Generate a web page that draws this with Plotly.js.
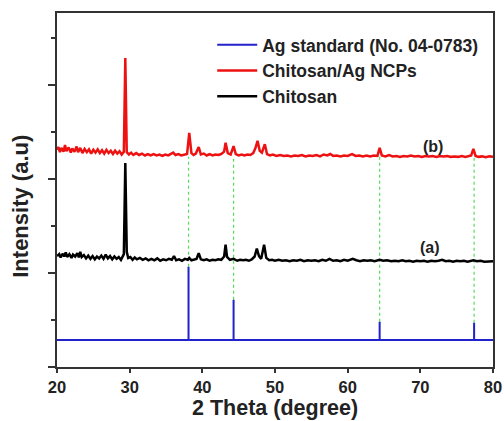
<!DOCTYPE html>
<html>
<head>
<meta charset="utf-8">
<script src="https://cdn.plot.ly/plotly-3.0.1.min.js"></script>
<style>html,body{margin:0;padding:0;background:#fff;}#chart{width:504px;height:421px;}</style>
</head>
<body>
<div id="chart"></div>
<script>
// Chitosan (a)
const chitosanX = [20.0,20.3,20.5,20.8,21.0,21.2,21.4,21.7,22.0,22.2,22.5,22.8,23.0,23.2,23.4,23.7,24.0,24.3,24.6,24.9,25.2,25.5,25.8,26.1,26.4,26.7,27.0,27.3,27.6,27.9,28.2,28.5,28.8,29.0,29.2,29.4,29.6,29.8,30.1,30.4,30.7,31.0,31.4,31.8,32.2,32.6,33.0,33.4,33.8,34.2,34.6,35.0,35.4,35.8,36.1,36.4,36.8,37.2,37.6,38.0,38.2,38.5,38.9,39.2,39.5,39.8,40.2,40.6,41.0,41.4,41.8,42.2,42.6,43.0,43.2,43.4,43.8,44.3,44.8,45.2,45.6,46.0,46.4,46.8,47.2,47.5,47.8,48.1,48.5,48.8,49.2,49.6,50.0,50.5,51.0,51.5,52.0,52.5,53.0,53.5,54.0,54.5,55.0,55.5,56.0,56.5,57.0,57.5,58.0,58.5,59.0,59.5,60.0,60.7,61.2,61.7,62.2,62.7,63.2,63.7,64.4,64.9,65.4,66.0,66.5,67.0,67.5,68.0,68.5,69.0,69.5,70.0,70.5,71.0,71.5,72.0,72.5,73.0,73.5,74.0,74.5,75.0,75.5,76.0,76.5,77.3,77.8,78.3,78.8,79.3,80.0];
const chitosanY = [2.36,2.40,2.33,2.41,2.35,2.44,2.34,2.40,2.32,2.39,2.35,2.42,2.33,2.45,2.34,2.38,2.31,2.37,2.30,2.36,2.29,2.35,2.31,2.37,2.30,2.39,2.31,2.36,2.29,2.35,2.30,2.34,2.28,2.35,2.40,4.34,2.45,2.32,2.34,2.28,2.33,2.29,2.32,2.28,2.31,2.27,2.30,2.27,2.31,2.26,2.29,2.27,2.30,2.28,2.36,2.27,2.29,2.26,2.30,2.28,2.32,2.27,2.29,2.30,2.42,2.29,2.27,2.29,2.26,2.28,2.27,2.29,2.28,2.35,2.60,2.34,2.28,2.30,2.26,2.28,2.27,2.28,2.26,2.29,2.35,2.52,2.36,2.30,2.60,2.32,2.27,2.28,2.26,2.28,2.26,2.27,2.25,2.27,2.26,2.28,2.25,2.27,2.26,2.27,2.25,2.28,2.26,2.30,2.26,2.27,2.25,2.28,2.26,2.30,2.27,2.25,2.27,2.26,2.27,2.25,2.28,2.26,2.27,2.25,2.26,2.25,2.27,2.25,2.26,2.24,2.26,2.25,2.26,2.24,2.26,2.25,2.26,2.28,2.25,2.26,2.24,2.26,2.25,2.26,2.24,2.27,2.25,2.26,2.24,2.25,2.25];

// Chitosan/Ag NCPs (b)
const ncpX = [20.0,20.2,20.4,20.6,20.9,21.1,21.3,21.6,21.9,22.1,22.4,22.7,22.9,23.2,23.5,23.8,24.1,24.4,24.7,25.0,25.3,25.6,25.9,26.2,26.5,26.8,27.1,27.4,27.7,28.0,28.3,28.6,28.9,29.2,29.4,29.6,29.9,30.2,30.5,30.9,31.3,31.7,32.1,32.5,32.9,33.3,33.7,34.1,34.5,34.9,35.3,35.7,36.0,36.3,36.7,37.1,37.5,37.9,38.2,38.5,38.8,39.1,39.5,39.8,40.2,40.6,41.0,41.4,41.8,42.2,42.6,43.0,43.2,43.5,43.9,44.3,44.6,45.0,45.4,45.8,46.2,46.6,47.0,47.3,47.6,47.9,48.2,48.6,48.9,49.3,49.7,50.2,50.7,51.2,51.7,52.2,52.7,53.2,53.7,54.2,54.7,55.2,55.7,56.2,56.7,57.2,57.6,58.0,58.5,59.0,59.5,60.0,60.6,61.1,61.6,62.1,62.6,63.1,63.6,64.1,64.4,64.7,65.2,65.7,66.2,66.7,67.2,67.7,68.2,68.7,69.2,69.7,70.2,70.7,71.2,71.7,72.2,72.7,73.2,73.7,74.2,74.7,75.2,75.7,76.2,76.7,77.0,77.3,77.6,78.0,78.5,79.0,79.5,80.0];
const ncpY = [4.62,4.68,4.57,4.66,4.58,4.72,4.59,4.67,4.56,4.65,4.58,4.69,4.57,4.66,4.55,4.64,4.57,4.63,4.54,4.62,4.56,4.63,4.55,4.61,4.54,4.62,4.55,4.60,4.53,4.60,4.54,4.59,4.52,4.58,6.57,4.57,4.52,4.56,4.51,4.55,4.51,4.54,4.50,4.53,4.50,4.53,4.50,4.52,4.49,4.52,4.50,4.53,4.56,4.51,4.53,4.50,4.52,4.53,4.98,4.55,4.51,4.54,4.68,4.52,4.54,4.50,4.53,4.50,4.52,4.51,4.53,4.58,4.77,4.55,4.52,4.70,4.53,4.50,4.52,4.50,4.52,4.51,4.55,4.65,4.81,4.60,4.56,4.74,4.53,4.50,4.52,4.49,4.51,4.49,4.50,4.48,4.50,4.49,4.51,4.48,4.50,4.49,4.51,4.48,4.52,4.50,4.53,4.49,4.50,4.48,4.50,4.49,4.53,4.49,4.50,4.48,4.50,4.48,4.50,4.49,4.66,4.50,4.48,4.51,4.48,4.49,4.47,4.49,4.48,4.50,4.48,4.49,4.47,4.49,4.48,4.49,4.47,4.49,4.48,4.49,4.47,4.48,4.47,4.49,4.47,4.48,4.50,4.64,4.49,4.47,4.48,4.46,4.48,4.47];

// Ag standard (No. 04-0783) stick pattern
const agPeaks = [38.1, 44.3, 64.4, 77.4];
const agHeights = [2.13, 1.43, 0.96, 0.94];
const agBase = 0.575;
const agRange = [20, 80];
const guideTop = 4.47;

// Tick/label texts
const xTicks = [20, 30, 40, 50, 60, 70, 80];
const curveLabels = ["(b)", "(a)"];
const curveLabelX = [71.8, 71.3];
const curveLabelY = [4.68, 2.55];

const agX = [agRange[0]], agY = [agBase];
agPeaks.forEach((p, i) => { agX.push(p, p, p); agY.push(agBase, agHeights[i], agBase); });
agX.push(agRange[1]); agY.push(agBase);

const font = {family: "Liberation Sans, Arial, sans-serif", color: "#222", weight: 700};

const traces = [
  {x: agX, y: agY, mode: "lines", name: "Ag standard (No. 04-0783)", line: {color: "#2222cc", width: 2}},
  {x: ncpX, y: ncpY, mode: "lines", name: "Chitosan/Ag NCPs", line: {color: "#ee1111", width: 2.5}},
  {x: chitosanX, y: chitosanY, mode: "lines", name: "Chitosan", line: {color: "#000000", width: 2.5}}
];

const shapes = agPeaks.map((p, i) => ({
  type: "line", xref: "x", yref: "y", x0: p, x1: p, y0: agHeights[i], y1: guideTop,
  line: {color: "#55dd55", width: 1.2, dash: "dot"}, layer: "below"
}));

const annotations = curveLabels.map((t, i) => ({
  text: t, x: curveLabelX[i], y: curveLabelY[i], xref: "x", yref: "y", showarrow: false,
  font: Object.assign({}, font, {size: 16})
}));
annotations.push({
  text: "Intensity (a.u)", xref: "paper", yref: "paper", x: -0.083, y: 0.455,
  xanchor: "center", yanchor: "middle", textangle: -90, showarrow: false,
  font: Object.assign({}, font, {size: 22})
});
annotations.push({
  text: "2 Theta (degree)", xref: "paper", yref: "paper", x: 0.5, y: -0.08,
  xanchor: "center", yanchor: "top", showarrow: false, borderpad: 0,
  font: Object.assign({}, font, {size: 21.5})
});

const layout = {
  width: 504, height: 421,
  margin: {l: 57, r: 11, t: 13, b: 54},
  paper_bgcolor: "#fff", plot_bgcolor: "#fff",
  showlegend: true,
  legend: {x: 0.356, y: 0.961, xanchor: "left", yanchor: "top", bgcolor: "rgba(0,0,0,0)",
           itemwidth: 40, font: Object.assign({}, font, {size: 17.5}), tracegroupgap: 0},
  xaxis: {range: [20, 80], tickvals: xTicks, ticktext: xTicks.map(String), ticks: "outside", ticklen: 4, tickwidth: 2, tickcolor: "#333",
          showline: true, linecolor: "#333", linewidth: 2, mirror: true, showgrid: false, zeroline: false,
          tickfont: Object.assign({}, font, {size: 16.5})},
  yaxis: {range: [0, 7.53], dtick: 2, tick0: 0, ticks: "outside", ticklen: 7, tickwidth: 2, tickcolor: "#333",
          minor: {dtick: 1, ticks: "outside", ticklen: 4, tickwidth: 1.5, tickcolor: "#333"},
          showticklabels: false, showline: true, linecolor: "#333", linewidth: 2, mirror: true, showgrid: false, zeroline: false},
  shapes: shapes,
  annotations: annotations
};

Plotly.newPlot("chart", traces, layout, {staticPlot: true, displayModeBar: false});
</script>
</body>
</html>
